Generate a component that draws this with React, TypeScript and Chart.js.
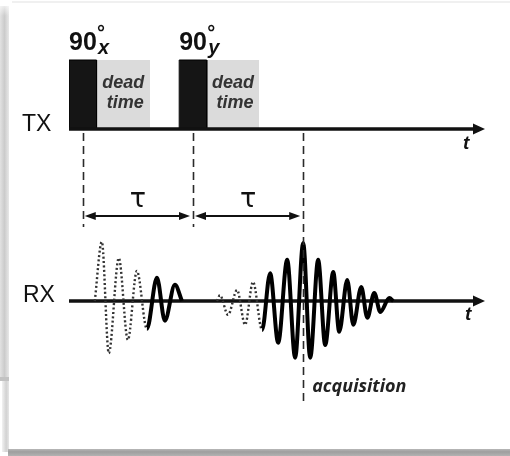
import React, { useEffect, useRef } from 'react';
import { Chart, registerables } from 'chart.js';

Chart.register(...registerables);

// Time axis (μs) and pulse sequence
const TIME_START = -1.25;
const TIME_END = 36.5;
const PULSE_CENTER = [0, 10];
const PULSE_WIDTH = 2.5;
const PULSE_ANGLE = ['90', '90'];
const PULSE_PHASE = ['x', 'y'];
const DEAD_TIME_END = [6.1, 16.0];
const ECHO_TIME = 20;

// Free induction decay after the first pulse (extrema, a.u.)
const FID_T = [1.09, 1.73, 2.36, 3.27, 4.09, 4.91, 5.82, 6.73, 7.45, 8.36, 9.0];
const FID_A = [0, 1.02, -0.9, 0.74, -0.67, 0.52, -0.48, 0.4, -0.34, 0.28, 0];

// Spin echo around 2τ (extrema, a.u.)
const ECHO_T = [12.18, 12.45, 13.18, 14.0, 14.73, 15.45, 16.27, 17.0, 17.73, 18.55, 19.27, 20.0,
  20.64, 21.36, 22.0, 22.73, 23.27, 24.0, 24.55, 25.27, 25.82, 26.45, 27.0, 27.82, 28.18];
const ECHO_A = [0, 0.1, -0.24, 0.19, -0.41, 0.33, -0.5, 0.48, -0.72, 0.71, -0.98, 1.0,
  -0.98, 0.71, -0.76, 0.5, -0.53, 0.36, -0.41, 0.24, -0.29, 0.14, -0.19, 0.05, 0];

// Layout
const W = 510;
const H = 456;
const PLOT = { left: 69, right: 485, top: 20, bottom: 420 };
const TX_BASE_Y = 129;
const TX_TOP_Y = 60;
const RX_BASE_Y = 301;
const RX_UNIT_PX = 58;
const TAU_ARROW_Y = 216;
const FONT = '"Liberation Sans", Arial, sans-serif';

const txUnit = TX_BASE_Y - TX_TOP_Y;

function arrowHead(ctx: CanvasRenderingContext2D, tipX: number, y: number, dir: number, len: number, half: number) {
  ctx.beginPath();
  ctx.moveTo(tipX, y);
  ctx.lineTo(tipX - dir * len, y - half);
  ctx.lineTo(tipX - dir * len, y + half);
  ctx.closePath();
  ctx.fill();
}

const diagramPlugin = {
  id: 'diagram',
  beforeDraw(chart: any) {
    const ctx: CanvasRenderingContext2D = chart.ctx;
    ctx.save();
    ctx.fillStyle = '#ffffff';
    ctx.fillRect(0, 0, W, H);
    // faint top edge
    ctx.fillStyle = '#f0f0f0';
    ctx.fillRect(12, 1, W - 12, 2);
    // left frame strip
    const g = ctx.createLinearGradient(0, 0, 9, 0);
    g.addColorStop(0, '#e2e2e2');
    g.addColorStop(0.5, '#cbcbcb');
    g.addColorStop(1, '#e8e8e8');
    ctx.fillStyle = g;
    ctx.fillRect(0, 6, 9, 372);
    const fade = ctx.createLinearGradient(0, 0, 0, 16);
    fade.addColorStop(0, 'rgba(255,255,255,1)');
    fade.addColorStop(1, 'rgba(255,255,255,0)');
    ctx.fillStyle = fade;
    ctx.fillRect(0, 0, 9, 16);
    ctx.fillStyle = '#c2c2c2';
    ctx.fillRect(0, 377, 9, 4);
    const g2 = ctx.createLinearGradient(2, 0, 9, 0);
    g2.addColorStop(0, '#f2f2f2');
    g2.addColorStop(0.6, '#d2d2d2');
    g2.addColorStop(1, '#e6e6e6');
    ctx.fillStyle = g2;
    ctx.fillRect(2, 381, 7, 71);
    // bottom shadow
    const g3 = ctx.createLinearGradient(0, 449, 0, 456);
    g3.addColorStop(0, '#b8b8b8');
    g3.addColorStop(0.4, '#9e9e9e');
    g3.addColorStop(1, '#b2b2b2');
    ctx.fillStyle = g3;
    ctx.fillRect(8, 449, W - 8, 7);
    ctx.restore();
  },
  afterDatasetsDraw(chart: any) {
    const ctx: CanvasRenderingContext2D = chart.ctx;
    const x = chart.scales.x;
    const yTx = chart.scales.yTx;
    const yRx = chart.scales.yRx;
    const tx0 = yTx.getPixelForValue(0);
    const rx0 = yRx.getPixelForValue(0);
    const tip = x.getPixelForValue(TIME_END);
    ctx.save();

    // axis arrowheads
    ctx.fillStyle = '#111';
    arrowHead(ctx, tip, tx0, 1, 12, 5.5);
    arrowHead(ctx, tip, rx0, 1, 12, 5.5);

    // dashed timing markers
    ctx.strokeStyle = '#2a2a2a';
    ctx.lineWidth = 1.6;
    ctx.setLineDash([8, 5]);
    const markers = [...PULSE_CENTER, ECHO_TIME];
    markers.forEach((t, i) => {
      const px = Math.round(x.getPixelForValue(t)) + 0.5;
      ctx.beginPath();
      ctx.moveTo(px, tx0 + 4);
      ctx.lineTo(px, i < PULSE_CENTER.length ? TAU_ARROW_Y + 11 : 404);
      ctx.stroke();
    });
    ctx.setLineDash([]);

    // τ intervals
    ctx.strokeStyle = '#111';
    ctx.fillStyle = '#111';
    ctx.lineWidth = 1.8;
    const spans = [[PULSE_CENTER[0], PULSE_CENTER[1]], [PULSE_CENTER[1], ECHO_TIME]];
    spans.forEach(([a, b]) => {
      const xa = x.getPixelForValue(a) + 2;
      const xb = x.getPixelForValue(b) - 3;
      ctx.beginPath();
      ctx.moveTo(xa + 6, TAU_ARROW_Y);
      ctx.lineTo(xb - 6, TAU_ARROW_Y);
      ctx.stroke();
      arrowHead(ctx, xa, TAU_ARROW_Y, -1, 11, 4);
      arrowHead(ctx, xb, TAU_ARROW_Y, 1, 11, 4);
      ctx.font = `27px "DejaVu Sans", ${FONT}`;
      ctx.textAlign = 'center';
      ctx.textBaseline = 'alphabetic';
      ctx.fillText('τ', (x.getPixelForValue(a) + x.getPixelForValue(b)) / 2, 207);
    });

    // pulse labels and dead-time captions
    PULSE_CENTER.forEach((c, i) => {
      const left = x.getPixelForValue(c - PULSE_WIDTH / 2);
      const right = x.getPixelForValue(c + PULSE_WIDTH / 2);
      const deadEnd = x.getPixelForValue(DEAD_TIME_END[i]);
      const top = yTx.getPixelForValue(1);
      ctx.fillStyle = '#111';
      ctx.textAlign = 'left';
      ctx.font = `bold 25px ${FONT}`;
      ctx.fillText(PULSE_ANGLE[i], left, top - 10);
      ctx.font = `bold 20px ${FONT}`;
      ctx.fillText('°', left + 28, top - 21);
      ctx.font = `italic bold 20px ${FONT}`;
      ctx.fillText(PULSE_PHASE[i], left + 29, top - 6);
      ctx.fillStyle = '#333';
      ctx.textAlign = 'center';
      ctx.font = `italic bold 18px ${FONT}`;
      const mid = (right + deadEnd) / 2;
      ctx.fillText('dead', mid, top + 28);
      ctx.fillText('time', mid + 2, top + 48);
    });

    // channel labels
    ctx.fillStyle = '#111';
    ctx.textAlign = 'left';
    ctx.font = `23px ${FONT}`;
    ctx.fillText('TX', 22, tx0 + 2);
    ctx.fillText('RX', 23, rx0 + 1);
    ctx.font = `italic bold 19px ${FONT}`;
    ctx.fillText('t', tip - 22, tx0 + 20);
    ctx.fillText('t', tip - 20, rx0 + 19);

    ctx.fillStyle = '#222';
    ctx.font = `italic bold 18px "Open Sans", ${FONT}`;
    ctx.fillText('acquisition', x.getPixelForValue(ECHO_TIME) + 9, 392);

    ctx.restore();
  },
};

function isDeadTime(deadEnd: number) {
  return (ctx: any) => (ctx.p0.parsed.x + ctx.p1.parsed.x) / 2 < deadEnd;
}

function waveform(ts: number[], as: number[], deadEnd: number) {
  const inDead = isDeadTime(deadEnd);
  return {
    data: ts.map((t, i) => ({ x: t, y: as[i] })),
    yAxisID: 'yRx',
    borderColor: '#000',
    borderWidth: 4,
    borderJoinStyle: 'round' as const,
    pointRadius: 0,
    fill: false,
    cubicInterpolationMode: 'monotone' as const,
    order: 0,
    segment: {
      borderDash: (ctx: any) => (inDead(ctx) ? [2, 2.4] : undefined),
      borderWidth: (ctx: any) => (inDead(ctx) ? 2.4 : undefined),
      borderColor: (ctx: any) => (inDead(ctx) ? '#333' : undefined),
    },
  };
}

export default function App() {
  const ref = useRef<HTMLCanvasElement>(null);

  useEffect(() => {
    const canvas = ref.current;
    if (!canvas) return;

    const deadBoxes = PULSE_CENTER.map((c, i) => ({
      data: [
        { x: c + PULSE_WIDTH / 2, y: 0 },
        { x: c + PULSE_WIDTH / 2, y: 1 },
        { x: DEAD_TIME_END[i], y: 1 },
        { x: DEAD_TIME_END[i], y: 0 },
      ],
      yAxisID: 'yTx',
      backgroundColor: '#dbdbdb',
      borderWidth: 0,
      pointRadius: 0,
      fill: 'origin',
      order: 4,
    }));

    const pulses = PULSE_CENTER.map((c) => ({
      data: [
        { x: c - PULSE_WIDTH / 2, y: 0 },
        { x: c - PULSE_WIDTH / 2, y: 1 },
        { x: c + PULSE_WIDTH / 2, y: 1 },
        { x: c + PULSE_WIDTH / 2, y: 0 },
      ],
      yAxisID: 'yTx',
      backgroundColor: '#151515',
      borderColor: '#000',
      borderWidth: 1,
      pointRadius: 0,
      fill: 'origin',
      order: 3,
    }));

    const baseline = (axis: string) => ({
      data: [
        { x: TIME_START, y: 0 },
        { x: TIME_END - 0.8, y: 0 },
      ],
      yAxisID: axis,
      borderColor: '#111',
      borderWidth: 3.5,
      pointRadius: 0,
      fill: false,
      order: 1,
    });

    const txMin = -(PLOT.bottom - TX_BASE_Y) / txUnit;
    const txMax = (TX_BASE_Y - PLOT.top) / txUnit;
    const rxMin = -(PLOT.bottom - RX_BASE_Y) / RX_UNIT_PX;
    const rxMax = (RX_BASE_Y - PLOT.top) / RX_UNIT_PX;

    const chart = new Chart(canvas, {
      type: 'line',
      data: {
        datasets: [
          ...deadBoxes,
          ...pulses,
          baseline('yTx'),
          baseline('yRx'),
          waveform(FID_T, FID_A, DEAD_TIME_END[0]),
          waveform(ECHO_T, ECHO_A, DEAD_TIME_END[1]),
        ] as any,
      },
      options: {
        animation: false,
        responsive: false,
        devicePixelRatio: 1,
        events: [],
        layout: {
          padding: {
            left: PLOT.left,
            right: W - PLOT.right,
            top: PLOT.top,
            bottom: H - PLOT.bottom,
          },
        },
        scales: {
          x: { type: 'linear', min: TIME_START, max: TIME_END, display: false },
          yTx: { type: 'linear', min: txMin, max: txMax, display: false },
          yRx: { type: 'linear', min: rxMin, max: rxMax, display: false },
        },
        plugins: {
          legend: { display: false },
          tooltip: { enabled: false },
        },
      },
      plugins: [diagramPlugin],
    });

    return () => chart.destroy();
  }, []);

  return (
    <div style={{ position: 'absolute', left: 0, top: 0, width: W, height: H }}>
      <canvas ref={ref} width={W} height={H} style={{ display: 'block', width: W, height: H }} />
    </div>
  );
}
